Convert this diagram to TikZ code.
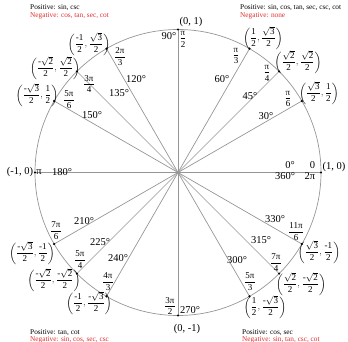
\documentclass[tikz,border=0pt]{standalone}
\usepackage{amsmath}
\usepackage{fontspec}
\setmainfont{Liberation Serif}
\definecolor{linegray}{RGB}{150,150,150}
\definecolor{negred}{RGB}{225,45,45}
\newcommand\tf[2]{\dfrac{\text{#1}}{\text{#2}}}
\newcommand\sq[1]{\sqrt{\text{#1}}}
\newcommand\cp[2]{$\left(#1{,}\,#2\right)$}
\begin{document}
\begin{tikzpicture}[x=1pt,y=-1pt,
  lbl/.style={font=\fontsize{10.5}{12}\selectfont, inner sep=0pt},
  frc/.style={font=\fontsize{9}{10}\selectfont, inner sep=0pt},
  info/.style={font=\fontsize{7.3}{8}\selectfont, inner sep=0pt, anchor=base west},
  neg/.style={info, text=negred},
  ray/.style={draw=linegray, line width=0.7pt},
  dot/.style={circle, fill=black, inner sep=0pt, minimum size=2.4pt}]
\useasboundingbox (0,0) rectangle (348,342);
\coordinate (O) at (178,172.5);
\draw[ray] (O) circle[radius=143pt];
\foreach \a in {0,30,45,60,90,120,135,150,180,210,225,240,270,300,315,330}{
  \coordinate (P\a) at ([shift={(\a:143pt)}]O);
  \draw[ray] (O) -- (P\a);
}
\foreach \a in {0,30,45,60,90,120,135,150,180,210,225,240,270,300,315,330}{
  \node[dot] (D\a) at (P\a) {};
}
% quadrant info
\node[info] (tl1) at (30,10) {Positive: sin, csc};
\node[neg]  (tl2) at (30,17.5) {Negative: cos, tan, sec, cot};
\node[info] (tr1) at (240,10) {Positive: sin, cos, tan, sec, csc, cot};
\node[neg]  (tr2) at (240,17.5) {Negative: none};
\node[info] (bl1) at (30,334) {Positive: tan, cot};
\node[neg]  (bl2) at (30,341) {Negative: sin, cos, sec, csc};
\node[info] (br1) at (242,334) {Positive: cos, sec};
\node[neg]  (br2) at (242,341) {Negative: sin, tan, csc, cot};
% 90
\node[lbl] (c90) at (191,22) {(0, 1)};
\node[lbl] (d90) at (169,36) {90°};
\node[frc] (r90) at (183,39) {$\tf{π}{2}$};
% 60
\node[frc] (c60) at (263,38) {\cp{\tf{1}{2}}{\dfrac{\sq{3}}{\text{2}}}};
\node[frc] (r60) at (236,56) {$\tf{π}{3}$};
\node[lbl] (d60) at (222,79) {60°};
% 45
\node[frc] (c45) at (298,62) {\cp{\dfrac{\sq{2}}{\text{2}}}{\dfrac{\sq{2}}{\text{2}}}};
\node[frc] (r45) at (267,73) {$\tf{π}{4}$};
\node[lbl] (d45) at (250,96) {45°};
% 30
\node[frc] (c30) at (319,93) {\cp{\dfrac{\sq{3}}{\text{2}}}{\tf{1}{2}}};
\node[frc] (r30) at (288,99) {$\tf{π}{6}$};
\node[lbl] (d30) at (266,116) {30°};
% 0
\node[lbl] (c0) at (334,167) {(1, 0)};
\node[lbl] (r0) at (312.5,165.5) {0};
\node[lbl] (d0) at (290,165.5) {0°};
\node[lbl] (d360) at (285,176) {360°};
\node[lbl] (r360) at (310,176) {2π};
% 120
\node[frc] (c120) at (89,44) {\cp{\tf{-1}{2}}{\dfrac{\sq{3}}{\text{2}}}};
\node[frc] (r120) at (120,57) {$\tf{2π}{3}$};
\node[lbl] (d120) at (136,79) {120°};
% 135
\node[frc] (c135) at (55,68) {\cp{\dfrac{\text{-}\sq{2}}{\text{2}}}{\dfrac{\sq{2}}{\text{2}}}};
\node[frc] (r135) at (89,84) {$\tf{3π}{4}$};
\node[lbl] (d135) at (119,93) {135°};
% 150
\node[frc] (c150) at (37,95) {\cp{\dfrac{\text{-}\sq{3}}{\text{2}}}{\tf{1}{2}}};
\node[frc] (r150) at (69,100) {$\tf{5π}{6}$};
\node[lbl] (d150) at (92,115) {150°};
% 180
\node[lbl] (c180) at (20,172) {(-1, 0)};
\node[lbl] (r180) at (39,172) {π};
\node[lbl] (d180) at (62,172) {180°};
% 210
\node[frc] (c210) at (32,253) {\cp{\dfrac{\text{-}\sq{3}}{\text{2}}}{\tf{-1}{2}}};
\node[frc] (r210) at (56,231) {$\tf{7π}{6}$};
\node[lbl] (d210) at (84,221) {210°};
% 225
\node[frc] (c225) at (54,280) {\cp{\dfrac{\text{-}\sq{2}}{\text{2}}}{\dfrac{\text{-}\sq{2}}{\text{2}}}};
\node[frc] (r225) at (80,260) {$\tf{5π}{4}$};
\node[lbl] (d225) at (100,242) {225°};
% 240
\node[frc] (c240) at (89,303) {\cp{\tf{-1}{2}}{\dfrac{\text{-}\sq{3}}{\text{2}}}};
\node[frc] (r240) at (108,282) {$\tf{4π}{3}$};
\node[lbl] (d240) at (118,258) {240°};
% 270
\node[frc] (r270) at (170,306) {$\tf{3π}{2}$};
\node[lbl] (d270) at (190,310) {270°};
\node[lbl] (c270) at (187,329) {(0, -1)};
% 300
\node[frc] (c300) at (265,307) {\cp{\tf{1}{2}}{\dfrac{\text{-}\sq{3}}{\text{2}}}};
\node[frc] (r300) at (250,282) {$\tf{5π}{3}$};
\node[lbl] (d300) at (237,260) {300°};
% 315
\node[frc] (c315) at (301,284) {\cp{\dfrac{\sq{2}}{\text{2}}}{\dfrac{\text{-}\sq{2}}{\text{2}}}};
\node[frc] (r315) at (276,263) {$\tf{7π}{4}$};
\node[lbl] (d315) at (261,240) {315°};
% 330
\node[frc] (c330) at (319,252) {\cp{\dfrac{\sq{3}}{\text{2}}}{\tf{-1}{2}}};
\node[frc] (r330) at (296,232) {$\tf{11π}{6}$};
\node[lbl] (d330) at (275,219) {330°};
\end{tikzpicture}
\end{document}
